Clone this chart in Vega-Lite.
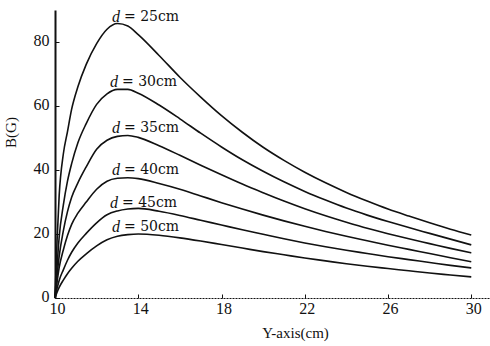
{
  "$schema": "https://vega.github.io/schema/vega-lite/v6.json",
  "width": 435,
  "height": 288,
  "autosize": {"type": "none"},
  "padding": {"left": 55, "top": 10, "right": 0, "bottom": 48},
  "background": "white",
  "config": {
    "view": {"stroke": null},
    "axis": {"grid": false, "labelFont": "Liberation Serif", "titleFont": "Liberation Serif", "labelColor": "#111", "titleColor": "#111", "domainColor": "#111", "tickColor": "#111", "labelFontWeight": "normal", "titleFontWeight": "normal"}
  },
  "datasets": {
    "curves": [
      {"d":"25","x":10,"B":0},{"d":"25","x":10.1,"B":18},{"d":"25","x":10.2,"B":32},{"d":"25","x":10.4,"B":45},{"d":"25","x":10.6,"B":52},{"d":"25","x":10.8,"B":59},{"d":"25","x":11.1,"B":66},{"d":"25","x":11.5,"B":73},{"d":"25","x":12,"B":79.5},{"d":"25","x":12.5,"B":84},{"d":"25","x":13,"B":85.8},{"d":"25","x":13.5,"B":85},{"d":"25","x":14,"B":82.3},{"d":"25","x":15,"B":75.8},{"d":"25","x":16,"B":69},{"d":"25","x":17,"B":62.8},{"d":"25","x":18,"B":57},{"d":"25","x":19,"B":51.8},{"d":"25","x":20,"B":47.1},{"d":"25","x":21,"B":43},{"d":"25","x":22,"B":39.3},{"d":"25","x":23,"B":36},{"d":"25","x":24,"B":33},{"d":"25","x":25,"B":30.3},{"d":"25","x":26,"B":27.8},{"d":"25","x":27,"B":25.6},{"d":"25","x":28,"B":23.5},{"d":"25","x":29,"B":21.5},{"d":"25","x":30,"B":19.7},
      {"d":"30","x":10,"B":0},{"d":"30","x":10.1,"B":10},{"d":"30","x":10.2,"B":19},{"d":"30","x":10.4,"B":29},{"d":"30","x":10.6,"B":36.5},{"d":"30","x":10.8,"B":42},{"d":"30","x":11.1,"B":48.5},{"d":"30","x":11.5,"B":54.5},{"d":"30","x":12,"B":60.5},{"d":"30","x":12.5,"B":63.8},{"d":"30","x":13,"B":65.2},{"d":"30","x":13.5,"B":65.2},{"d":"30","x":14,"B":64},{"d":"30","x":15,"B":60.3},{"d":"30","x":16,"B":56},{"d":"30","x":17,"B":51.5},{"d":"30","x":18,"B":47.2},{"d":"30","x":19,"B":43.2},{"d":"30","x":20,"B":39.6},{"d":"30","x":21,"B":36.3},{"d":"30","x":22,"B":33.3},{"d":"30","x":23,"B":30.6},{"d":"30","x":24,"B":28.1},{"d":"30","x":25,"B":25.9},{"d":"30","x":26,"B":23.9},{"d":"30","x":27,"B":22},{"d":"30","x":28,"B":20.2},{"d":"30","x":29,"B":18.4},{"d":"30","x":30,"B":16.6},
      {"d":"35","x":10,"B":0},{"d":"35","x":10.1,"B":7},{"d":"35","x":10.2,"B":13},{"d":"35","x":10.4,"B":21},{"d":"35","x":10.6,"B":27},{"d":"35","x":10.8,"B":31.5},{"d":"35","x":11.1,"B":36},{"d":"35","x":11.5,"B":41},{"d":"35","x":12,"B":46.5},{"d":"35","x":12.5,"B":49.3},{"d":"35","x":13,"B":50.5},{"d":"35","x":13.5,"B":50.8},{"d":"35","x":14,"B":50.2},{"d":"35","x":15,"B":47.6},{"d":"35","x":16,"B":44.6},{"d":"35","x":17,"B":41.5},{"d":"35","x":18,"B":38.5},{"d":"35","x":19,"B":35.6},{"d":"35","x":20,"B":32.9},{"d":"35","x":21,"B":30.3},{"d":"35","x":22,"B":27.9},{"d":"35","x":23,"B":25.7},{"d":"35","x":24,"B":23.7},{"d":"35","x":25,"B":21.8},{"d":"35","x":26,"B":20.1},{"d":"35","x":27,"B":18.5},{"d":"35","x":28,"B":17},{"d":"35","x":29,"B":15.5},{"d":"35","x":30,"B":14.1},
      {"d":"40","x":10,"B":0},{"d":"40","x":10.1,"B":5},{"d":"40","x":10.2,"B":9.5},{"d":"40","x":10.4,"B":15},{"d":"40","x":10.6,"B":19.5},{"d":"40","x":10.8,"B":23},{"d":"40","x":11.1,"B":26.5},{"d":"40","x":11.5,"B":30},{"d":"40","x":12,"B":34},{"d":"40","x":12.5,"B":36.5},{"d":"40","x":13,"B":37.4},{"d":"40","x":13.5,"B":37.6},{"d":"40","x":14,"B":37.3},{"d":"40","x":15,"B":35.8},{"d":"40","x":16,"B":34},{"d":"40","x":17,"B":31.9},{"d":"40","x":18,"B":29.8},{"d":"40","x":19,"B":27.8},{"d":"40","x":20,"B":25.9},{"d":"40","x":21,"B":24.1},{"d":"40","x":22,"B":22.4},{"d":"40","x":23,"B":20.8},{"d":"40","x":24,"B":19.3},{"d":"40","x":25,"B":17.9},{"d":"40","x":26,"B":16.5},{"d":"40","x":27,"B":15.2},{"d":"40","x":28,"B":13.9},{"d":"40","x":29,"B":12.6},{"d":"40","x":30,"B":11.3},
      {"d":"45","x":10,"B":0},{"d":"45","x":10.1,"B":3},{"d":"45","x":10.2,"B":5.5},{"d":"45","x":10.4,"B":8.8},{"d":"45","x":10.6,"B":11.8},{"d":"45","x":10.8,"B":14.3},{"d":"45","x":11.1,"B":17.2},{"d":"45","x":11.5,"B":20.2},{"d":"45","x":12,"B":23.5},{"d":"45","x":12.5,"B":26},{"d":"45","x":13,"B":27.2},{"d":"45","x":13.5,"B":27.8},{"d":"45","x":14,"B":28},{"d":"45","x":15,"B":27.1},{"d":"45","x":16,"B":25.8},{"d":"45","x":17,"B":24.3},{"d":"45","x":18,"B":22.8},{"d":"45","x":19,"B":21.3},{"d":"45","x":20,"B":19.9},{"d":"45","x":21,"B":18.5},{"d":"45","x":22,"B":17.2},{"d":"45","x":23,"B":16},{"d":"45","x":24,"B":14.9},{"d":"45","x":25,"B":13.9},{"d":"45","x":26,"B":12.9},{"d":"45","x":27,"B":12},{"d":"45","x":28,"B":11.1},{"d":"45","x":29,"B":10.2},{"d":"45","x":30,"B":9.4},
      {"d":"50","x":10,"B":0},{"d":"50","x":10.1,"B":1.8},{"d":"50","x":10.2,"B":3.3},{"d":"50","x":10.4,"B":5.6},{"d":"50","x":10.6,"B":7.6},{"d":"50","x":10.8,"B":9.3},{"d":"50","x":11.1,"B":11.5},{"d":"50","x":11.5,"B":13.8},{"d":"50","x":12,"B":16.3},{"d":"50","x":12.5,"B":18.2},{"d":"50","x":13,"B":19.3},{"d":"50","x":13.5,"B":19.8},{"d":"50","x":14,"B":20},{"d":"50","x":15,"B":19.6},{"d":"50","x":16,"B":18.8},{"d":"50","x":17,"B":17.8},{"d":"50","x":18,"B":16.7},{"d":"50","x":19,"B":15.6},{"d":"50","x":20,"B":14.5},{"d":"50","x":21,"B":13.5},{"d":"50","x":22,"B":12.5},{"d":"50","x":23,"B":11.6},{"d":"50","x":24,"B":10.7},{"d":"50","x":25,"B":9.9},{"d":"50","x":26,"B":9.2},{"d":"50","x":27,"B":8.5},{"d":"50","x":28,"B":7.8},{"d":"50","x":29,"B":7.2},{"d":"50","x":30,"B":6.6}
    ],
    "labels": [
      {"sym":"d","rest":"= 25cm","x":12.74,"y":87.8},
      {"sym":"d","rest":"= 30cm","x":12.64,"y":67.5},
      {"sym":"d","rest":"= 35cm","x":12.74,"y":53.1},
      {"sym":"d","rest":"= 40cm","x":12.74,"y":40},
      {"sym":"d","rest":"= 45cm","x":12.64,"y":29.7},
      {"sym":"d","rest":"= 50cm","x":12.74,"y":22.2}
    ]
  },
  "layer": [
    {
      "data": {"name": "curves"},
      "mark": {"type": "line", "color": "#111", "strokeWidth": 1.6, "interpolate": "monotone"},
      "encoding": {
        "x": {"field": "x", "type": "quantitative", "scale": {"domain": [10, 30.9], "nice": false, "zero": false},
          "axis": {"title": "Y-axis(cm)", "values": [10, 14, 18, 22, 26, 30], "labelFontSize": 16, "titleFontSize": 15, "tickSize": -4, "labelPadding": 6, "labelOffset": 2, "domainWidth": 1.2, "domainDash": [2, 1], "titleX": 240, "titleY": 27, "titleAnchor": "middle", "titleBaseline": "top", "labelFlush": false}},
        "y": {"field": "B", "type": "quantitative", "scale": {"domain": [0, 90], "nice": false},
          "axis": {"title": "B(G)", "values": [0, 20, 40, 60, 80], "labelFontSize": 16, "titleFontSize": 15, "tickSize": -4, "labelPadding": 10, "labelOffset": -2, "domainWidth": 2, "titleX": -37, "titleY": 122, "titleAnchor": "middle", "labelFlush": false}},
        "detail": {"field": "d", "type": "nominal"}
      }
    },
    {
      "data": {"name": "labels"},
      "mark": {"type": "text", "font": "Liberation Serif", "fontStyle": "italic", "fontSize": 16, "align": "left", "baseline": "middle", "color": "#111"},
      "encoding": {
        "x": {"field": "x", "type": "quantitative"},
        "y": {"field": "y", "type": "quantitative"},
        "text": {"field": "sym"}
      }
    },
    {
      "data": {"name": "labels"},
      "mark": {"type": "text", "font": "DejaVu Serif", "fontSize": 14, "align": "left", "baseline": "middle", "color": "#111", "dx": 12},
      "encoding": {
        "x": {"field": "x", "type": "quantitative"},
        "y": {"field": "y", "type": "quantitative"},
        "text": {"field": "rest"}
      }
    }
  ]
}
